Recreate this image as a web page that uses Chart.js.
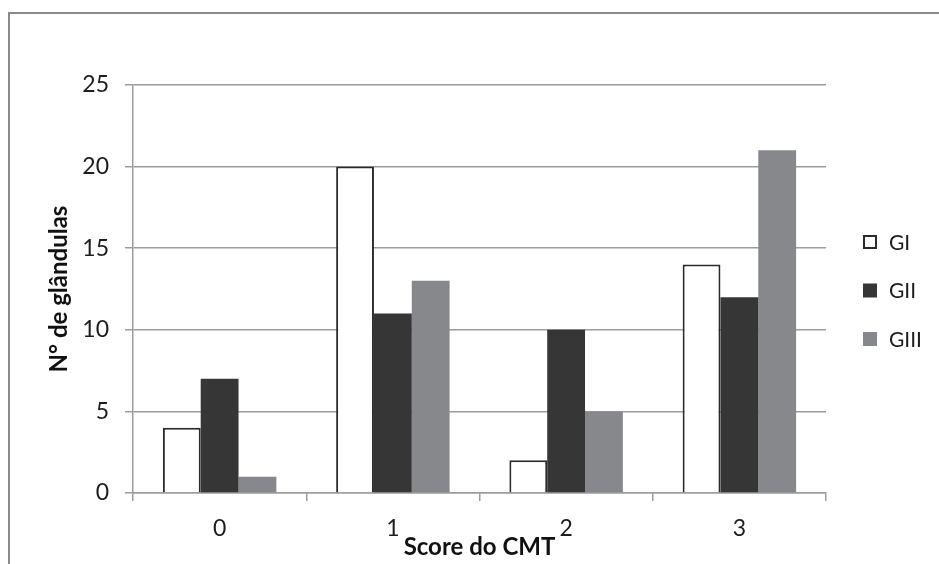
<!DOCTYPE html>
<html>
<head>
<meta charset="utf-8">
<script src="https://cdn.jsdelivr.net/npm/chart.js@4"></script>
<style>
  html, body { margin: 0; padding: 0; background: #fff; }
  #wrap { width: 939px; height: 564px; position: relative; }
</style>
</head>
<body>
<div id="wrap"><canvas id="cmtChart" width="939" height="564"></canvas></div>
<script>
const categories = ['0', '1', '2', '3'];
const seriesNames = ['GI', 'GII', 'GIII'];
const giValues = [4, 20, 2, 14];
const giiValues = [7, 11, 10, 12];
const giiiValues = [1, 13, 5, 21];
const yTicks = [0, 5, 10, 15, 20, 25];

const gridColor = '#9c9c9c';
const textColor = '#1c1c1c';

// frame round the picture (top and left edges only are visible)
const frame = {
    id: 'frame',
    beforeDraw(chart) {
        const ctx = chart.ctx;
        ctx.save();
        ctx.fillStyle = '#fff';
        ctx.fillRect(0, 0, chart.width, chart.height);
        ctx.strokeStyle = '#8a8a8a';
        ctx.lineWidth = 2;
        ctx.beginPath();
        ctx.moveTo(9, chart.height);
        ctx.lineTo(9, 13);
        ctx.lineTo(chart.width, 13);
        ctx.stroke();
        ctx.restore();
    }
};

// legend drawn on the right, read from the datasets
const sideLegend = {
    id: 'sideLegend',
    afterDraw(chart) {
        const ctx = chart.ctx;
        ctx.save();
        ctx.font = '21px Lato';
        ctx.textBaseline = 'middle';
        ctx.textAlign = 'left';
        chart.data.datasets.forEach((ds, i) => {
            const y = 235 + i * 48.5;
            ctx.fillStyle = ds.backgroundColor;
            ctx.fillRect(863, y, 14, 14);
            if (ds.borderWidth) {
                ctx.strokeStyle = ds.borderColor;
                ctx.lineWidth = 2;
                ctx.strokeRect(864, y + 1, 12, 12);
            }
            ctx.fillStyle = textColor;
            ctx.fillText(ds.label, 889, y + 8);
        });
        ctx.restore();
    }
};

const ctx = document.getElementById('cmtChart').getContext('2d');
new Chart(ctx, {
    type: 'bar',
    data: {
        labels: categories,
        datasets: [
            {label: seriesNames[0], data: giValues, backgroundColor: '#ffffff', borderColor: '#2a2a2a', borderWidth: 2},
            {label: seriesNames[1], data: giiValues, backgroundColor: '#363636', borderWidth: 0},
            {label: seriesNames[2], data: giiiValues, backgroundColor: '#87888c', borderWidth: 0}
        ]
    },
    options: {
        responsive: false,
        animation: false,
        devicePixelRatio: 1,
        layout: {padding: {top: 85, right: 113, bottom: 2, left: 45}},
        datasets: {bar: {categoryPercentage: 0.655, barPercentage: 1.0}},
        plugins: {
            legend: {display: false},
            tooltip: {enabled: false}
        },
        scales: {
            x: {
                grid: {display: true, drawOnChartArea: false, drawTicks: true, tickLength: 8, color: gridColor, lineWidth: 1.5},
                border: {display: true, color: gridColor, width: 1.5},
                ticks: {color: textColor, font: {family: 'Lato', size: 23}, padding: 14},
                title: {display: true, text: 'Score do CMT', color: '#111', font: {family: 'Lato', size: 24, weight: 'bold'}, padding: 0},
                afterFit: (scale) => { scale.height = 69; }
            },
            y: {
                min: 0,
                max: 25,
                afterBuildTicks: (scale) => { scale.ticks = yTicks.map(v => ({value: v})); },
                grid: {color: gridColor, lineWidth: 1.5, tickLength: 8},
                border: {display: true, color: gridColor, width: 1.5},
                ticks: {color: textColor, font: {family: 'Lato', size: 23}, padding: 16},
                title: {display: true, text: 'N° de glândulas', color: '#111', font: {family: 'Lato', size: 24, weight: 'bold'}, padding: 0},
                afterFit: (scale) => { scale.width = 88; }
            }
        }
    },
    plugins: [frame, sideLegend]
});
</script>
</body>
</html>
